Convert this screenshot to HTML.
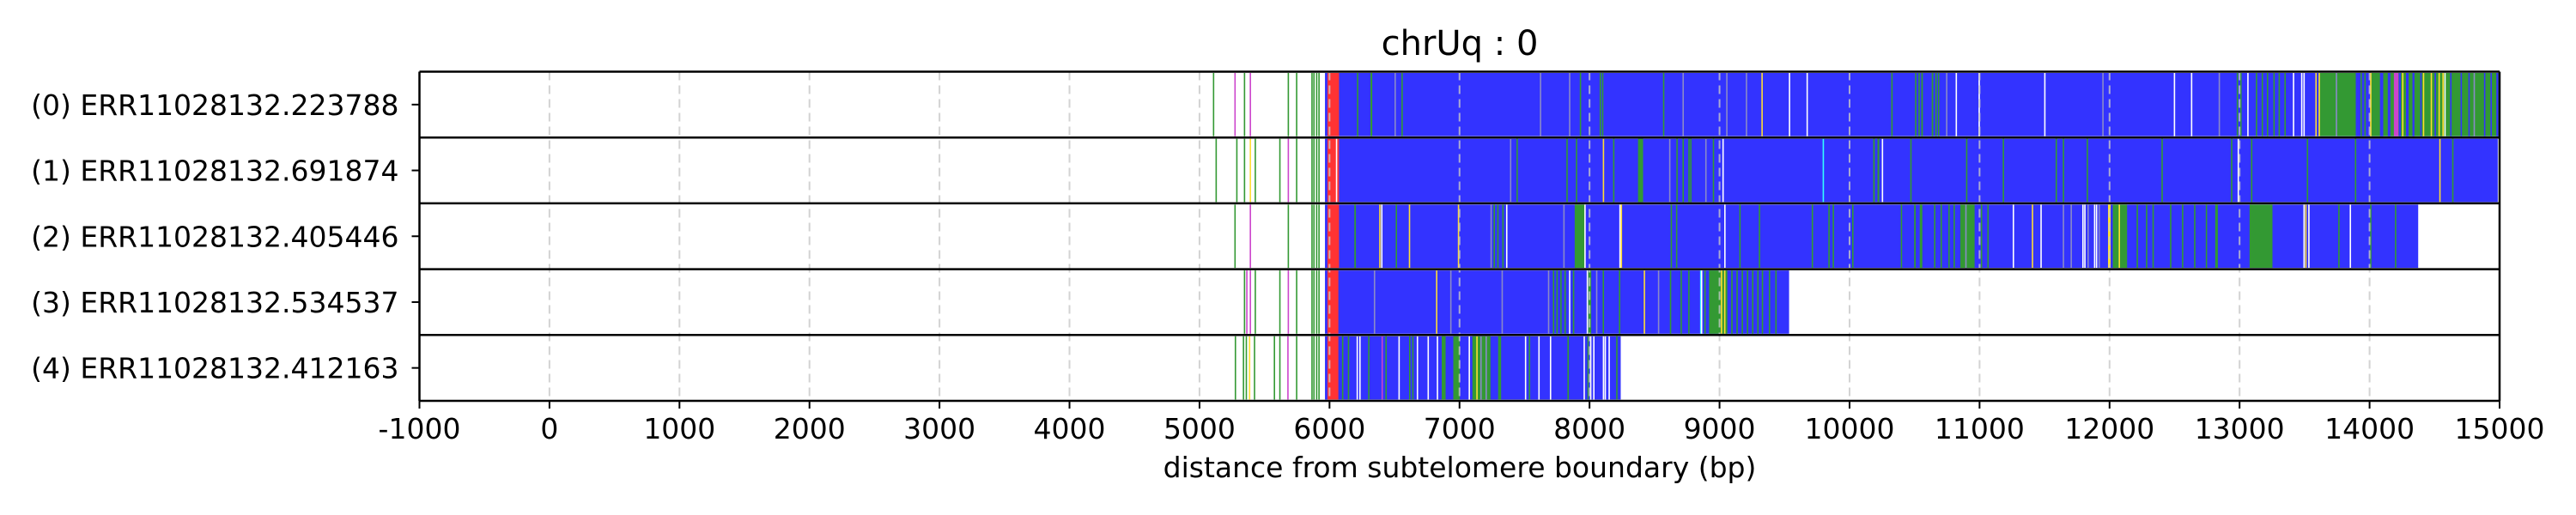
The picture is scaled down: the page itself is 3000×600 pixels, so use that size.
<!DOCTYPE html>
<html><head><meta charset="utf-8"><style>
html,body{margin:0;padding:0;background:#fff;width:3000px;height:600px;overflow:hidden}
svg text{font-family:"DejaVu Sans","Liberation Sans",sans-serif;fill:#000}
</style></head><body>
<svg id="chart" width="3000" height="600" viewBox="0 0 3000 600" xmlns="http://www.w3.org/2000/svg">
<text x="1700" y="64" font-size="40" text-anchor="middle">chrUq : 0</text>
<g id="bars"></g>
<g id="grid"></g>
<g id="frame"></g>
<g id="xaxis"></g>
<g id="yaxis"></g>
<text x="1700" y="556" font-size="33" text-anchor="middle">distance from subtelomere boundary (bp)</text>
</svg>
<script>
const readLabels = ["(0) ERR11028132.223788","(1) ERR11028132.691874","(2) ERR11028132.405446","(3) ERR11028132.534537","(4) ERR11028132.412163"];
const xTicks = [-1000,0,1000,2000,3000,4000,5000,6000,7000,8000,9000,10000,11000,12000,13000,14000,15000];
const readStart = [5965,5965,5965,5965,5965];
const readEnd = [15000,14986,14374,9535,8240];
const redStart = [5984,5984,5984,5984,5984];
const redEnd = [6073,6073,6073,6068,6068];
const preMarks0 = [[5103,'g'],[5268,'p'],[5341,'g'],[5386,'p'],[5678,'g'],[5742,'g'],[5860,'g'],[5875,'g'],[5896,'g'],[5914,'g']];
const preMarks1 = [[5123,'g'],[5282,'g'],[5341,'g'],[5386,'y'],[5424,'g'],[5613,'g'],[5678,'p'],[5742,'g'],[5860,'g'],[5875,'g'],[5896,'g'],[5914,'g']];
const preMarks2 = [[5268,'g'],[5386,'p'],[5678,'g'],[5860,'g'],[5875,'g'],[5896,'g'],[5914,'g']];
const preMarks3 = [[5341,'g'],[5359,'p'],[5386,'p'],[5424,'g'],[5613,'g'],[5678,'p'],[5742,'g'],[5860,'g'],[5875,'g'],[5896,'g'],[5914,'g']];
const preMarks4 = [[5271,'g'],[5333,'g'],[5355,'g'],[5380,'y'],[5418,'g'],[5571,'g'],[5613,'g'],[5675,'p'],[5742,'g'],[5860,'g'],[5875,'g'],[5896,'g'],[5914,'g']];
const stripes0 = [[6211,8,'g'],[6315,14,'g'],[6500,6,'e'],[6553,6,'g'],[7618,6,'e'],[7842,6,'e'],[7925,6,'g'],[8078,6,'g'],[8096,6,'g'],[8565,6,'g'],[8715,6,'e'],[9051,6,'e'],[9202,6,'e'],[9322,6,'y'],[9533,8,'w'],[9669,8,'w'],[10321,6,'g'],[10504,10,'g'],[10530,10,'g'],[10552,12,'g'],[10632,12,'g'],[10660,10,'g'],[10680,10,'g'],[10742,6,'e'],[10816,8,'w'],[10992,10,'w'],[11497,8,'w'],[11944,6,'e'],[12494,8,'w'],[12626,8,'w'],[12839,6,'e'],[12978,10,'g'],[13005,10,'g'],[13059,8,'w'],[13125,6,'g'],[13170,6,'g'],[13210,6,'g'],[13260,6,'g'],[13300,6,'g'],[13345,6,'g'],[13410,8,'w'],[13473,8,'w'],[13491,8,'w'],[13583,8,'y'],[13608,1392,'g'],[13608,8,'y'],[13740,5,'e'],[13894,110,'b'],[13930,6,'g'],[13960,6,'g'],[14004,8,'y'],[14080,25,'b'],[14140,20,'b'],[14187,35,'p'],[14225,15,'b'],[14250,8,'y'],[14280,20,'b'],[14330,15,'b'],[14390,10,'b'],[14410,8,'y'],[14470,10,'y'],[14500,8,'b'],[14530,10,'y'],[14560,10,'y'],[14575,8,'w'],[14620,10,'b'],[14700,8,'b'],[14760,10,'b'],[14800,8,'e'],[14880,10,'b'],[14930,8,'b'],[14975,15,'b']];
const stripes1 = [[6049,8,'w'],[7388,6,'e'],[7438,6,'g'],[7822,6,'g'],[7895,6,'g'],[8102,6,'y'],[8181,6,'g'],[8373,39,'g'],[8612,6,'e'],[8668,6,'g'],[8715,6,'g'],[8760,6,'g'],[8774,6,'g'],[8890,6,'e'],[8948,6,'g'],[9022,8,'w'],[9793,8,'c'],[10182,12,'g'],[10215,14,'g'],[10248,8,'w'],[10467,6,'g'],[10896,6,'g'],[11178,6,'g'],[11585,6,'g'],[11640,6,'g'],[11824,6,'g'],[12399,6,'g'],[12934,6,'g'],[12985,8,'w'],[13088,6,'g'],[13517,6,'g'],[13887,6,'g'],[14536,6,'y'],[14635,6,'g']];
const stripes2 = [[6191,12,'g'],[6382,6,'y'],[6397,6,'w'],[6509,6,'g'],[6610,6,'y'],[6987,8,'y'],[7238,6,'e'],[7262,8,'g'],[7290,6,'g'],[7329,8,'g'],[7358,8,'w'],[7798,6,'e'],[7886,77,'g'],[7960,6,'w'],[8229,8,'w'],[8240,6,'y'],[8624,6,'g'],[8665,6,'g'],[9036,8,'w'],[9152,6,'g'],[9302,6,'g'],[9709,6,'g'],[9837,6,'g'],[9870,6,'g'],[10020,6,'g'],[10394,6,'g'],[10497,12,'g'],[10540,20,'g'],[10650,8,'g'],[10700,8,'g'],[10760,8,'g'],[10800,8,'g'],[10852,110,'g'],[10890,6,'e'],[11010,6,'g'],[11060,6,'g'],[11255,8,'w'],[11402,6,'y'],[11468,8,'w'],[11640,6,'e'],[11700,6,'e'],[11790,8,'w'],[11805,8,'w'],[11830,6,'e'],[11880,8,'w'],[11895,8,'w'],[11915,8,'e'],[11988,20,'y'],[12025,110,'g'],[12070,6,'y'],[12208,6,'g'],[12280,6,'g'],[12330,6,'g'],[12465,8,'g'],[12557,6,'g'],[12650,6,'g'],[12740,6,'g'],[12813,20,'g'],[13077,176,'g'],[13491,8,'w'],[13505,6,'y'],[13528,8,'w'],[13759,6,'g'],[13847,8,'w'],[14004,6,'g'],[14195,6,'g']];
const stripes3 = [[6341,6,'e'],[6819,6,'y'],[6928,6,'e'],[7323,6,'e'],[7680,6,'e'],[7718,6,'g'],[7745,6,'g'],[7775,6,'g'],[7807,6,'g'],[7842,8,'w'],[7872,6,'g'],[7978,8,'w'],[7990,23,'g'],[8050,6,'e'],[8101,6,'g'],[8226,6,'g'],[8417,6,'y'],[8526,6,'e'],[8618,6,'g'],[8700,6,'g'],[8759,6,'g'],[8850,6,'c'],[8857,6,'w'],[8883,6,'g'],[8919,141,'g'],[9010,10,'y'],[9035,8,'y'],[9090,8,'g'],[9130,8,'g'],[9170,8,'g'],[9210,8,'g'],[9250,8,'g'],[9290,8,'g'],[9325,8,'g'],[9379,6,'g'],[9429,6,'g']];
const stripes4 = [[6096,6,'g'],[6141,6,'g'],[6208,8,'w'],[6229,8,'w'],[6297,6,'g'],[6400,6,'p'],[6430,6,'g'],[6530,8,'w'],[6612,8,'g'],[6636,8,'g'],[6671,8,'w'],[6754,8,'w'],[6825,8,'w'],[6863,30,'g'],[6952,50,'g'],[7070,8,'w'],[7099,139,'g'],[7129,6,'y'],[7160,10,'e'],[7200,10,'e'],[7297,23,'g'],[7503,8,'w'],[7533,8,'g'],[7606,8,'w'],[7695,8,'w'],[7830,6,'g'],[7954,8,'w'],[7984,8,'g'],[8004,8,'w'],[8028,8,'w'],[8102,8,'w'],[8116,8,'w'],[8146,8,'w'],[8205,6,'g']];
const preMarks = [preMarks0,preMarks1,preMarks2,preMarks3,preMarks4];
const stripes = [stripes0,stripes1,stripes2,stripes3,stripes4];

const colors = {b:'#3333ff',g:'#339933',r:'#ff3333',y:'#ffdd33',p:'#cc44cc',w:'#ffffff',e:'#8a8ac8',c:'#33ffff'};
const AX_L=488.5, AX_R=2911, AX_T=83.5, AX_B=467, X0=-1000, X1=15000;
const rowH=(AX_B-AX_T)/readLabels.length;
function xs(v){return AX_L+(v-X0)/(X1-X0)*(AX_R-AX_L);}
function ys(i){return AX_T+i*rowH;}
const NS='http://www.w3.org/2000/svg';
function mk(tag,attrs,parent){const e=document.createElementNS(NS,tag);for(const k in attrs)e.setAttribute(k,attrs[k]);parent.appendChild(e);return e;}
const bars=document.getElementById('bars'),grid=document.getElementById('grid'),frame=document.getElementById('frame'),xaxis=document.getElementById('xaxis'),yaxis=document.getElementById('yaxis');

readLabels.forEach((lab,i)=>{
  const g=mk('g',{},bars);
  
  
  const y0=ys(i)+1.5,h=rowH-3;
  preMarks[i].forEach(m=>{
    const r=mk('rect',{x:xs(m[0]),y:y0,width:1.6,height:h,fill:colors[m[1]]},g);
    
    
  });
  const b=mk('rect',{x:xs(readStart[i]),y:y0,width:xs(readEnd[i])-xs(readStart[i]),height:h,fill:colors.b},g);
  
  
  const rr=mk('rect',{x:xs(redStart[i]),y:y0,width:xs(redEnd[i])-xs(redStart[i]),height:h,fill:colors.r},g);
  
  
  stripes[i].forEach(s=>{
    const w=Math.max(1.6,xs(s[0]+s[1])-xs(s[0]));
    const st=mk('rect',{x:xs(s[0]),y:y0,width:w,height:h,fill:colors[s[2]]},g);
    
    
  });
  const t=mk('text',{x:AX_L-24,y:ys(i)+rowH/2+12,'font-size':33,'text-anchor':'end'},yaxis);
  t.textContent=lab;
  
  
  const tk=mk('line',{x1:AX_L-9,x2:AX_L,y1:ys(i)+rowH/2,y2:ys(i)+rowH/2,stroke:'#000','stroke-width':2},yaxis);
  
  
});

xTicks.forEach(v=>{
  const x=xs(v);
  if(v>X0&&v<X1){
    const gl=mk('line',{x1:x,x2:x,y1:AX_T,y2:AX_B,stroke:'#c8c8c8','stroke-width':2,'stroke-dasharray':'10,6','stroke-opacity':0.8},grid);
    
    
  }
  const tk=mk('line',{x1:x,x2:x,y1:AX_B,y2:AX_B+9,stroke:'#000','stroke-width':2},xaxis);
  
  
  const t=mk('text',{x:x,y:AX_B+44,'font-size':33,'text-anchor':'middle'},xaxis);
  t.textContent=String(v);
  
  
});

for(let i=0;i<=readLabels.length;i++){
  const l=mk('line',{x1:AX_L,x2:AX_R,y1:ys(i),y2:ys(i),stroke:'#000','stroke-width':2.5},frame);
  
  
}
const lf=mk('line',{x1:AX_L,x2:AX_L,y1:AX_T,y2:AX_B,stroke:'#000','stroke-width':2.5},frame);


const rt=mk('line',{x1:AX_R,x2:AX_R,y1:AX_T,y2:AX_B,stroke:'#000','stroke-width':2.5},frame);


</script>
</body></html>
